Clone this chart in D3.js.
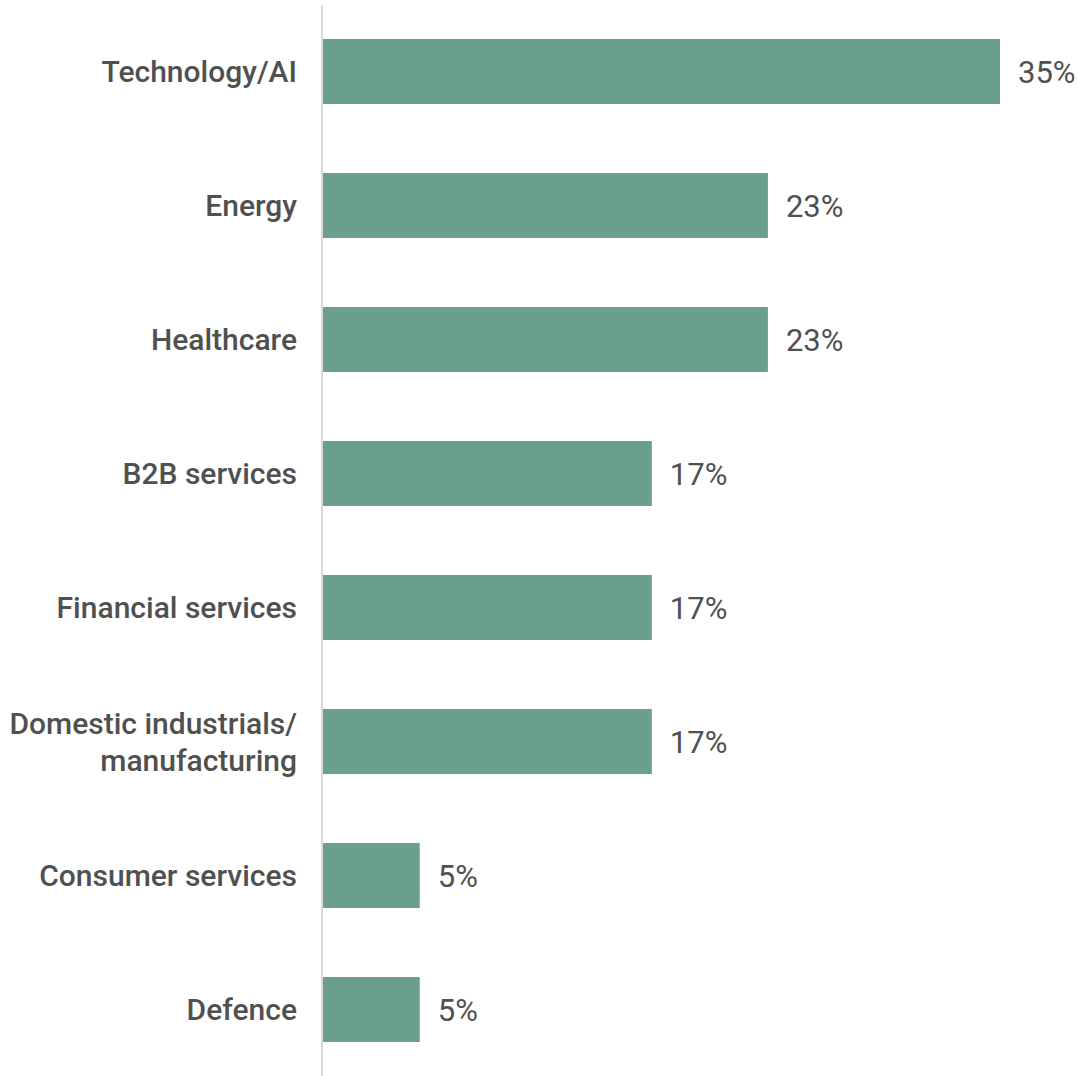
<!DOCTYPE html>
<html>
<head>
<meta charset="utf-8">
<script src="https://cdn.jsdelivr.net/npm/d3@7"></script>
<style>
  body { margin: 0; background: #fff; }
  svg text { font-family: Roboto, "Liberation Sans", sans-serif; fill: #505050; }
</style>
</head>
<body>
<svg width="1078" height="1076"></svg>
<script>
// data
var sectors = ["Technology/AI", "Energy", "Healthcare", "B2B services", "Financial services",
  "Domestic industrials/\nmanufacturing", "Consumer services", "Defence"];
var shares = [35, 23, 23, 17, 17, 17, 5, 5];

var svg = d3.select("svg"),
    width = +svg.attr("width"),
    height = +svg.attr("height");

var x0 = 323;

var x = d3.scaleLinear()
    .domain([0, 35])
    .range([x0, 1000]);

var y = d3.scaleBand()
    .domain(sectors)
    .range([4.5, 1076.5])
    .paddingInner(0.515)
    .paddingOuter(0.2575);

var rows = sectors.map(function(d, i) { return {name: d, value: shares[i]}; });

// bars
svg.append("g")
  .selectAll("rect")
  .data(rows)
  .enter().append("rect")
    .attr("x", x(0))
    .attr("y", function(d) { return y(d.name); })
    .attr("width", function(d) { return x(d.value) - x(0); })
    .attr("height", y.bandwidth())
    .attr("fill", "#6a9e8e");

// vertical axis line
svg.append("line")
    .attr("x1", x0 - 1).attr("x2", x0 - 1)
    .attr("y1", 5).attr("y2", height)
    .attr("stroke", "#d9d9d9")
    .attr("stroke-width", 2);

// category labels
var lineH = 37;
var lab = svg.append("g")
  .selectAll("text")
  .data(rows)
  .enter().append("text")
    .attr("text-anchor", "end")
    .attr("x", x0 - 26)
    .attr("y", function(d) { return y(d.name) + y.bandwidth() / 2; })
    .style("font-size", "30px")
    .style("font-weight", 500);

lab.each(function(d) {
  var parts = d.name.split("\n");
  var t = d3.select(this);
  parts.forEach(function(p, i) {
    t.append("tspan")
      .attr("x", x0 - 26)
      .attr("dy", i == 0 ? (10.5 - (parts.length - 1) * lineH / 2) : lineH)
      .text(p);
  });
});

// value labels
svg.append("g")
  .selectAll("text")
  .data(rows)
  .enter().append("text")
    .attr("x", function(d) { return x(d.value) + 18; })
    .attr("y", function(d) { return y(d.name) + y.bandwidth() / 2; })
    .attr("dy", 11)
    .style("font-size", "31px")
    .text(function(d) { return d.value + "%"; });
</script>
</body>
</html>
